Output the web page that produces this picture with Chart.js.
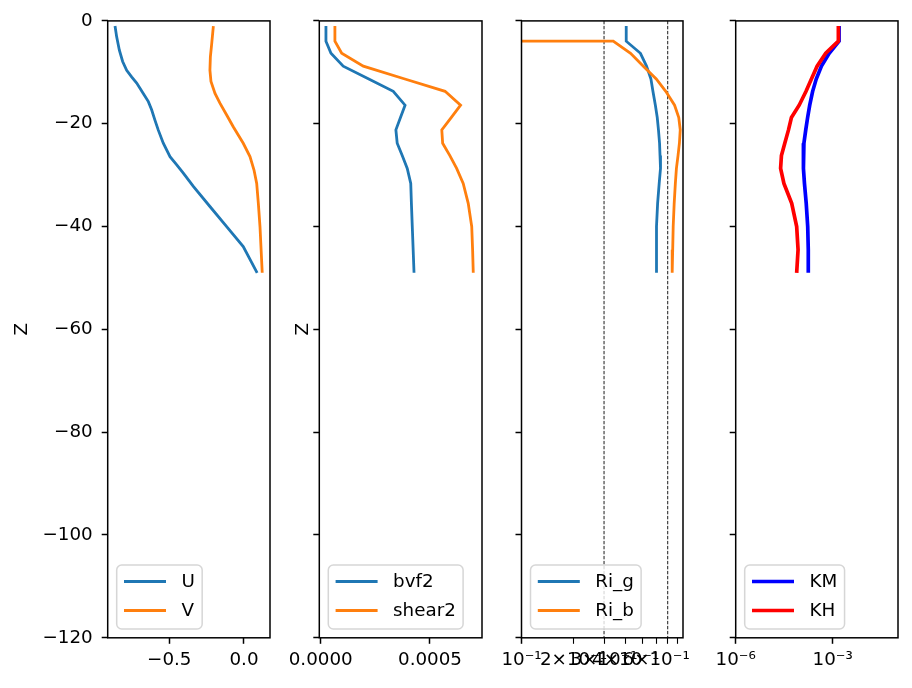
<!DOCTYPE html>
<html>
<head>
<meta charset="utf-8">
<script src="https://cdn.jsdelivr.net/npm/chart.js@4.4.1/dist/chart.umd.min.js"></script>
<style>
body { margin: 0; background: #fff; }
#wrap { position: relative; width: 912px; height: 688px; overflow: hidden; background: #fff; }
canvas { position: absolute; top: 0; }
</style>
</head>
<body>
<div id="wrap">
  <canvas id="p1" width="292" height="688" style="left:0px"></canvas>
  <canvas id="p2" width="282" height="688" style="left:220px"></canvas>
  <canvas id="p3" width="265" height="688" style="left:440px"></canvas>
  <canvas id="p4" width="262" height="688" style="left:650px"></canvas>
</div>
<script>
// profundidades (m)
const zNiveis = [-1, -3.95, -6.3, -8.8, -11.3, -13.7, -16.4, -18.8, -21.2, -23.8, -26.2, -28.7, -31.6, -35.5, -40, -44.5, -49]
const zRiB = [-3.95, -3.95, -6.3, -8.8, -11.3, -13.7, -16.4, -18.8, -21.2, -23.8, -26.2, -28.7, -31.6, -35.5, -40, -44.5, -49]
const zU = [-1, -3.1, -5.7, -7.9, -9.6, -10.9, -12.1, -14.1, -15.7, -17.3, -19.3, -21.2, -23.8, -26.4, -28, -29.6, -32.2, -36.1, -40, -43.9, -49]
const zV = [-1, -4.4, -7, -9.6, -11.8, -14.1, -16, -18.3, -20.6, -23.8, -26.4, -29, -31.6, -35.5, -40, -49]

// velocidades
const velU = [-0.863, -0.852, -0.834, -0.812, -0.785, -0.752, -0.718, -0.674, -0.64, -0.618, -0.596, -0.574, -0.54, -0.495, -0.45, -0.406, -0.339, -0.228, -0.116, -0.005, 0.088]
const velV = [-0.205, -0.216, -0.225, -0.228, -0.221, -0.194, -0.161, -0.116, -0.072, -0.005, 0.04, 0.067, 0.085, 0.096, 0.107, 0.122]

// estratificação e cisalhamento
const bvf2 = [2.4e-5, 2.4e-5, 4.7e-5, 1.03e-4, 2.2e-4, 3.32e-4, 3.86e-4, 3.65e-4, 3.44e-4, 3.50e-4, 3.73e-4, 3.96e-4, 4.12e-4, 4.15e-4, 4.19e-4, 4.23e-4, 4.27e-4]
const shear2 = [6.5e-5, 6.5e-5, 9.6e-5, 1.95e-4, 3.85e-4, 5.69e-4, 6.40e-4, 5.97e-4, 5.54e-4, 5.58e-4, 5.91e-4, 6.22e-4, 6.52e-4, 6.75e-4, 6.91e-4, 6.95e-4, 6.98e-4]

// números de Richardson
const riG = [0.403, 0.403, 0.487, 0.528, 0.560, 0.575, 0.594, 0.609, 0.619, 0.628, 0.632, 0.636, 0.625, 0.612, 0.603, 0.603, 0.603]
const riB = [0.001, 0.339, 0.427, 0.506, 0.601, 0.682, 0.767, 0.811, 0.827, 0.818, 0.803, 0.786, 0.775, 0.763, 0.753, 0.748, 0.743]
const riCrit = [0.3, 0.7]

// difusividades
const km = [1.58e-3, 1.58e-3, 7.8e-4, 4.5e-4, 3.1e-4, 2.4e-4, 1.95e-4, 1.68e-4, 1.47e-4, 1.29e-4, 1.25e-4, 1.24e-4, 1.34e-4, 1.52e-4, 1.69e-4, 1.76e-4, 1.76e-4]
const kh = [1.50e-3, 1.50e-3, 6.1e-4, 3.3e-4, 2.2e-4, 1.5e-4, 9.2e-5, 5.3e-5, 4.3e-5, 3.3e-5, 2.6e-5, 2.45e-5, 3.1e-5, 5.4e-5, 7.7e-5, 8.5e-5, 7.7e-5]

// marcas dos eixos
const ticksU = [-0.5, 0]
const ticksN2 = [0, 0.0005]
const ticksRi = [0.1, 0.2, 0.3, 0.4, 0.5, 0.6, 0.7, 0.8]
const rotulosRi = ['10\u207B\u00B9', '2\u00D710\u207B\u00B9', '3\u00D710\u207B\u00B9', '4\u00D710\u207B\u00B9', '', '6\u00D710\u207B\u00B9', '', '']
const ticksK = [1e-6, 1e-3]
const rotulosK = ['10\u207B\u2076', '10\u207B\u00B3']

const FONTE = 18.3
const TOPO = 20.9
const BASE = 637.8
const ALTURA = 688

Chart.defaults.font.family = "'DejaVu Sans', sans-serif"
Chart.defaults.font.size = FONTE
Chart.defaults.color = '#000'
Chart.defaults.animation = false

const menos = s => String(s).replace('-', '\u2212')

function pontos(xs, zs) {
    return xs.map((v, i) => ({ x: v, y: zs[i] }))
}

function linha(label, xs, zs, cor, largura, ordem) {
    return { label, data: pontos(xs, zs), borderColor: cor, borderWidth: largura, showLine: true, pointRadius: 0, order: ordem }
}

// moldura (spines) por cima das linhas
const moldura = {
    id: 'moldura',
    afterDatasetsDraw(chart) {
        const a = chart.chartArea, ctx = chart.ctx
        ctx.save()
        ctx.strokeStyle = '#000'
        ctx.lineWidth = 1.5
        ctx.strokeRect(a.left, a.top, a.right - a.left, a.bottom - a.top)
        ctx.restore()
    }
}

// legenda no canto inferior esquerdo, estilo matplotlib
const legenda = {
    id: 'legenda',
    afterDraw(chart) {
        const itens = chart.data.datasets.filter(d => d.label)
        const a = chart.chartArea, ctx = chart.ctx
        ctx.save()
        ctx.font = FONTE + "px 'DejaVu Sans'"
        const larguraTexto = Math.max(...itens.map(d => ctx.measureText(d.label).width))
        const w = 7.3 + 42 + 15.5 + larguraTexto + 7.3
        const h = 64
        const x0 = a.left + 9
        const y0 = a.bottom - 8.8 - h
        const r = 5
        ctx.beginPath()
        ctx.moveTo(x0 + r, y0)
        ctx.arcTo(x0 + w, y0, x0 + w, y0 + h, r)
        ctx.arcTo(x0 + w, y0 + h, x0, y0 + h, r)
        ctx.arcTo(x0, y0 + h, x0, y0, r)
        ctx.arcTo(x0, y0, x0 + w, y0, r)
        ctx.closePath()
        ctx.fillStyle = 'rgba(255,255,255,0.8)'
        ctx.fill()
        ctx.strokeStyle = 'rgba(204,204,204,0.8)'
        ctx.lineWidth = 1.5
        ctx.stroke()
        itens.forEach((d, i) => {
            const y = y0 + 16.5 + i * 29
            ctx.beginPath()
            ctx.moveTo(x0 + 7.3, y)
            ctx.lineTo(x0 + 7.3 + 42, y)
            ctx.strokeStyle = d.borderColor
            ctx.lineWidth = d.borderWidth
            ctx.stroke()
            ctx.fillStyle = '#000'
            ctx.textBaseline = 'middle'
            ctx.fillText(d.label, x0 + 7.3 + 42 + 15.5, y + 1)
        })
        ctx.restore()
    }
}

function eixoZ(largura, rotulos, titulo, tituloPad) {
    return {
        type: 'linear', position: 'left', min: -120, max: 0, bounds: 'data',
        ticks: { display: rotulos, stepSize: 20, padding: 9, callback: v => menos(v) },
        grid: { drawOnChartArea: false, tickLength: 6, tickWidth: 1.5, tickColor: '#000' },
        border: { display: false },
        title: { display: !!titulo, text: titulo || '', padding: { top: tituloPad, bottom: 0 } },
        afterFit: s => { s.width = largura; s.paddingTop = 0; s.paddingBottom = 0 }
    }
}

function eixoX(tipo, min, max, marcas, rotulo, larguraMarca) {
    return {
        type: tipo, position: 'bottom', min, max, bounds: 'data',
        afterBuildTicks: s => { s.ticks = marcas.map(v => ({ value: v })) },
        ticks: { autoSkip: false, maxRotation: 0, minRotation: 0, padding: 5, callback: (v, i) => rotulo(v, i) },
        grid: { drawOnChartArea: false, tickLength: 6, tickWidth: larguraMarca || 1.5, tickColor: '#000' },
        border: { display: false },
        afterFit: s => { s.height = ALTURA - BASE; s.paddingLeft = 0; s.paddingRight = 0 }
    }
}

function montarGrafico(id, datasets, x, y, direita) {
    return new Chart(document.getElementById(id), {
        type: 'scatter',
        data: { datasets },
        options: {
            responsive: false,
            animation: false,
            layout: { padding: { top: TOPO, left: 0, right: direita, bottom: 0 } },
            plugins: { legend: { display: false }, tooltip: { enabled: false } },
            scales: { x, y }
        },
        plugins: [moldura, legenda]
    })
}

// painel 1: U e V
montarGrafico('p1', [
    linha('U', velU, zU, '#1f77b4', 2.8, 2),
    linha('V', velV, zV, '#ff7f0e', 2.8, 1)
], eixoX('linear', -0.912, 0.174, ticksU, v => menos(v.toFixed(1))), eixoZ(107.7, true, 'Z', 11), 22)

// painel 2: bvf2 e shear2
montarGrafico('p2', [
    linha('bvf2', bvf2, zNiveis, '#1f77b4', 2.8, 2),
    linha('shear2', shear2, zNiveis, '#ff7f0e', 2.8, 1)
], eixoX('linear', -6.4e-6, 7.38e-4, ticksN2, v => v.toFixed(4)), eixoZ(99.3, false, 'Z', 72), 20)

// painel 3: Ri_g e Ri_b (escala log) com linhas críticas
const refs = riCrit.map(v => ({
    data: [{ x: v, y: 0 }, { x: v, y: -120 }],
    borderColor: '#000', borderWidth: 0.9, borderDash: [3.4, 1.6], showLine: true, pointRadius: 0, order: 10
}))
montarGrafico('p3', [
    linha('Ri_g', riG, zNiveis, '#1f77b4', 2.8, 2),
    linha('Ri_b', riB, zRiB, '#ff7f0e', 2.8, 1),
    ...refs
], eixoX('logarithmic', 0.1, 0.858, ticksRi, (v, i) => rotulosRi[i], c => (c.tick && c.tick.value === 0.1 ? 1.5 : 1.1)),
   eixoZ(81.5, false, '', 0), 22)

// painel 4: KM e KH (escala log)
montarGrafico('p4', [
    linha('KM', km, zNiveis, '#0000ff', 3.7, 2),
    linha('KH', kh, zNiveis, '#ff0000', 3.7, 1)
], eixoX('logarithmic', 1e-6, 0.105, ticksK, (v, i) => rotulosK[i]), eixoZ(85.7, false, '', 0), 14)
</script>
</body>
</html>
